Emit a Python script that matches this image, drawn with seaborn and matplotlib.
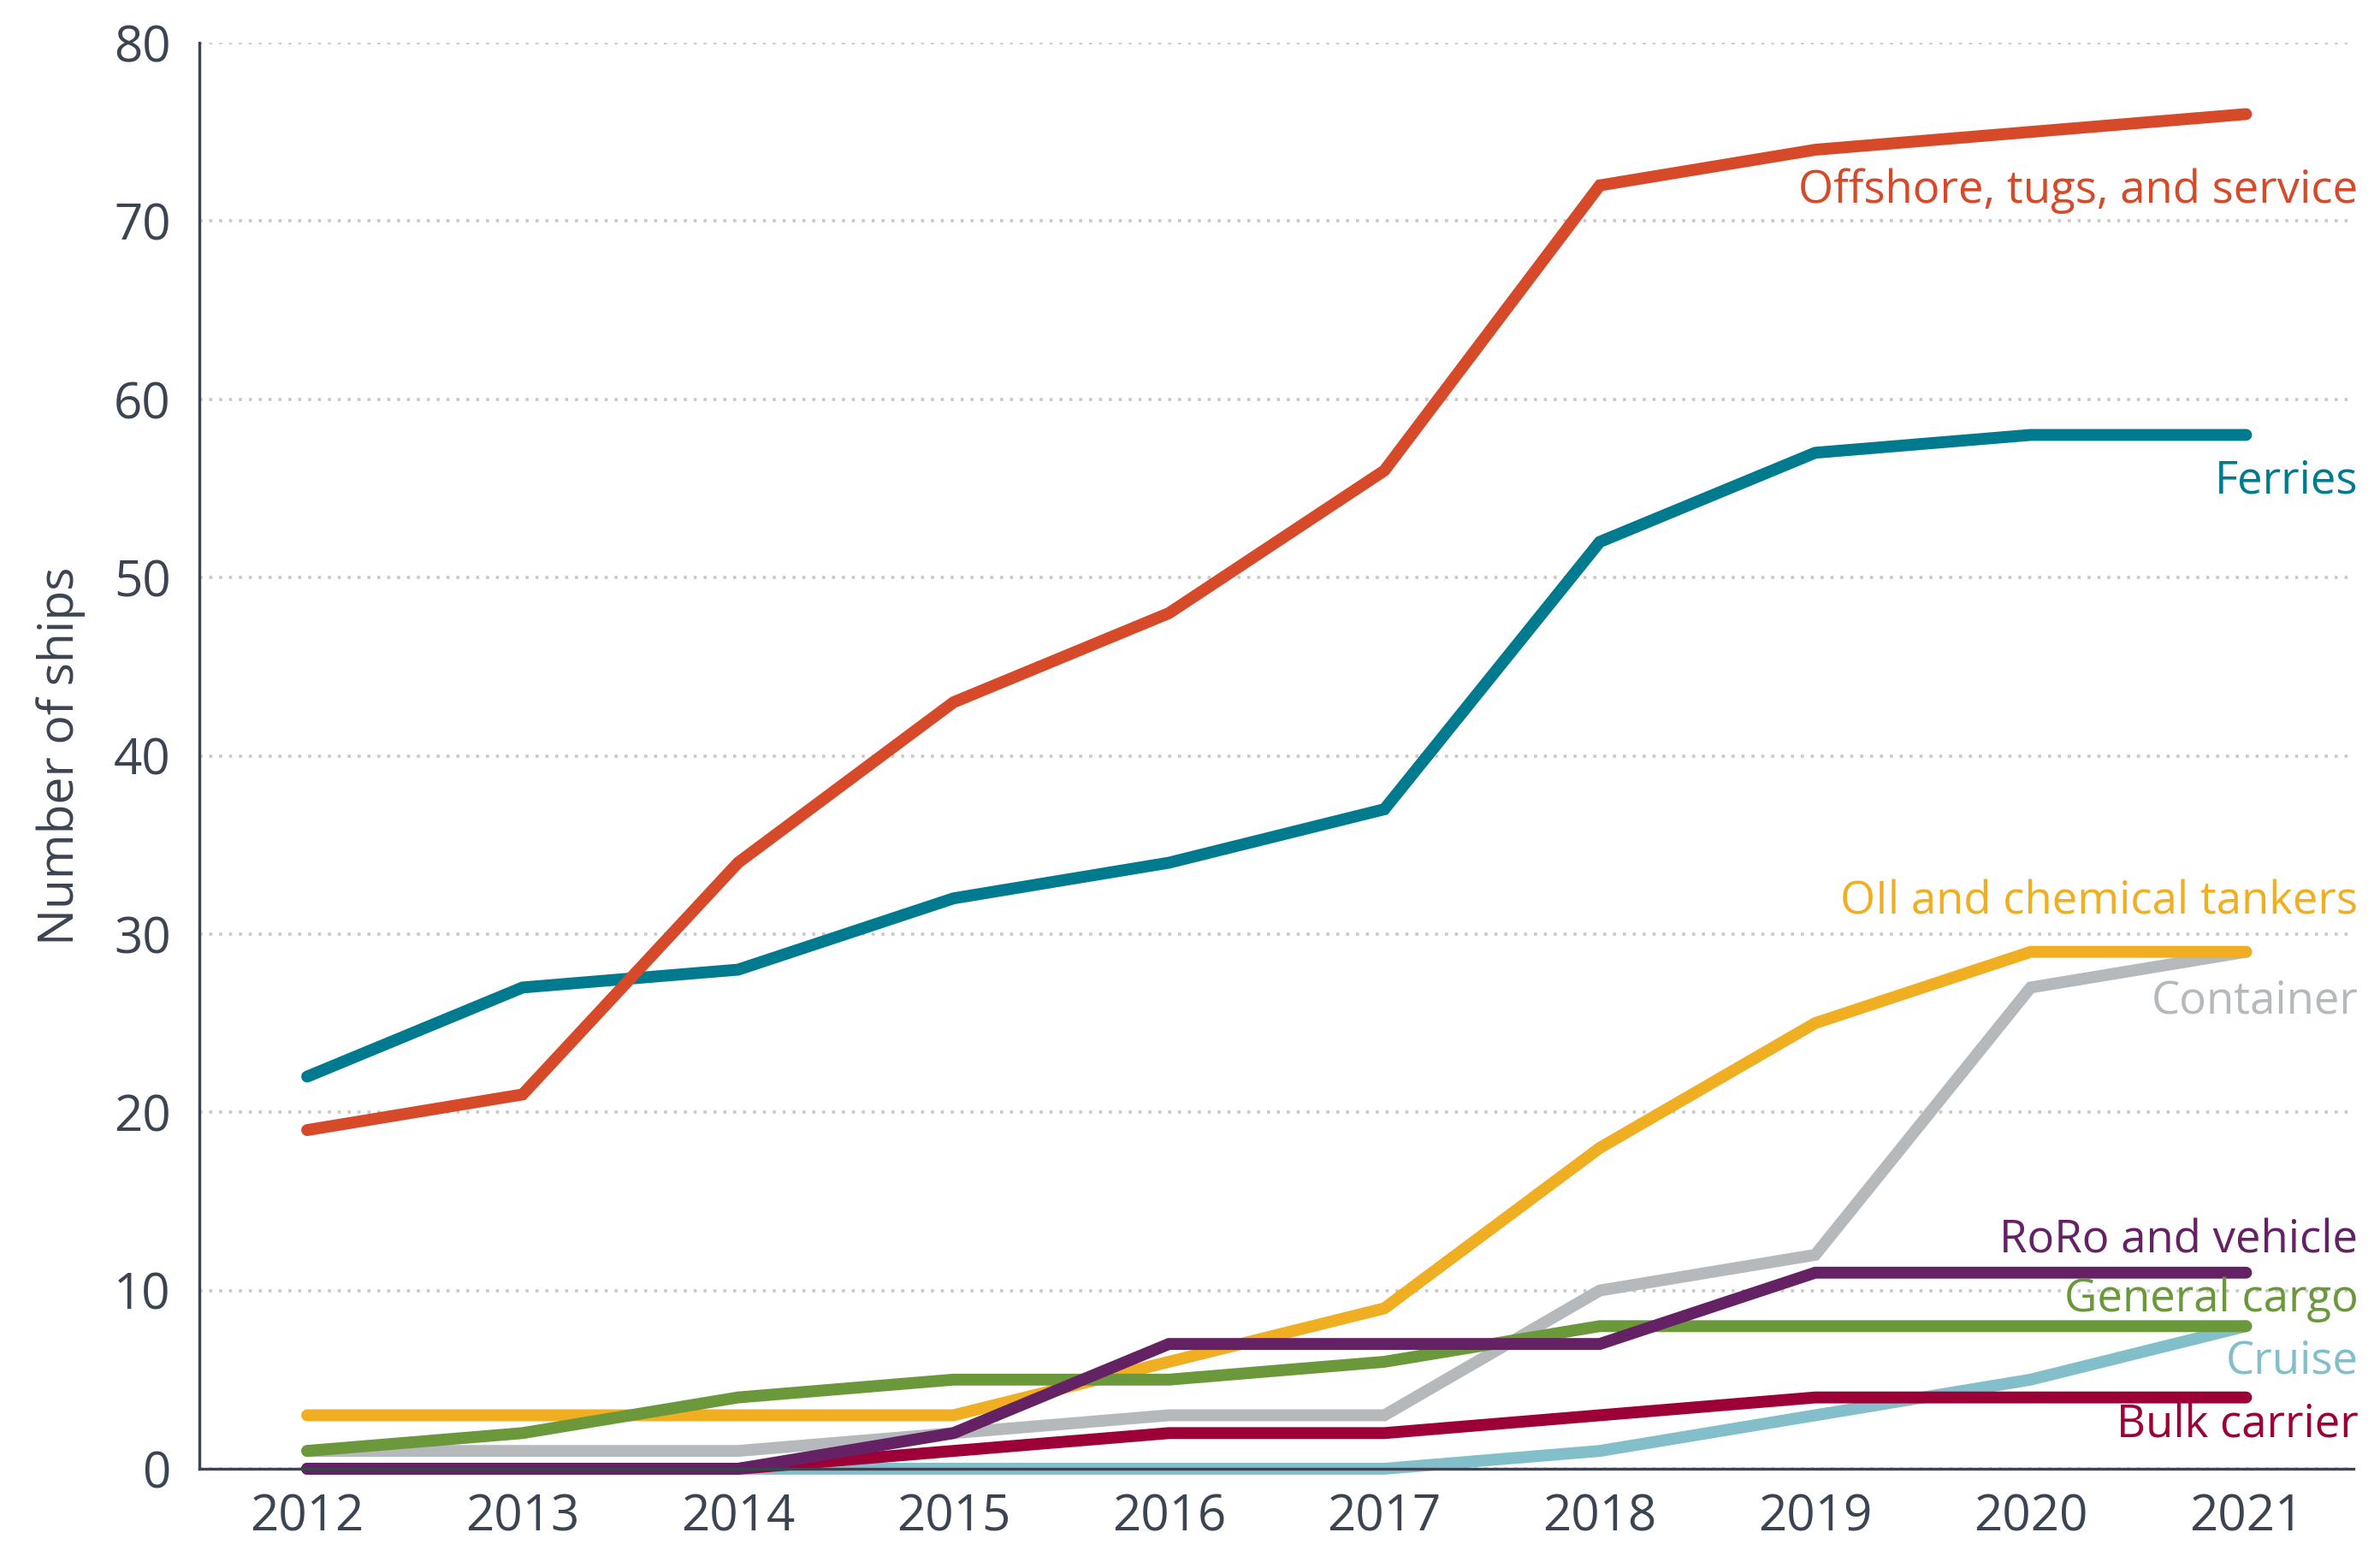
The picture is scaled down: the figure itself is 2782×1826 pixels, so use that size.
import pandas as pd
import matplotlib.pyplot as plt
import seaborn as sns

years = [2012, 2013, 2014, 2015, 2016, 2017, 2018, 2019, 2020, 2021]

container = [1, 1, 1, 2, 3, 3, 10, 12, 27, 29]
cruise = [0, 0, 0, 0, 0, 0, 1, 3, 5, 8]
bulk_carrier = [0, 0, 0, 1, 2, 2, 3, 4, 4, 4]
oil_chemical = [3, 3, 3, 3, 6, 9, 18, 25, 29, 29]
general_cargo = [1, 2, 4, 5, 5, 6, 8, 8, 8, 8]
roro_vehicle = [0, 0, 0, 2, 7, 7, 7, 11, 11, 11]
ferries = [22, 27, 28, 32, 34, 37, 52, 57, 58, 58]
offshore = [19, 21, 34, 43, 48, 56, 72, 74, 75, 76]

series = {
    "Container": container,
    "Cruise": cruise,
    "Bulk carrier": bulk_carrier,
    "OIl and chemical tankers": oil_chemical,
    "General cargo": general_cargo,
    "RoRo and vehicle": roro_vehicle,
    "Ferries": ferries,
    "Offshore, tugs, and service": offshore,
}

colors = {
    "Container": "#B5B9BB",
    "Cruise": "#82BFCA",
    "Bulk carrier": "#9C0037",
    "OIl and chemical tankers": "#F0AE22",
    "General cargo": "#6B983B",
    "RoRo and vehicle": "#642265",
    "Ferries": "#007A8E",
    "Offshore, tugs, and service": "#D64A2A",
}

rows = []
for name, vals in series.items():
    for yr, v in zip(years, vals):
        rows.append({"year": yr, "ships": v, "type": name})
df = pd.DataFrame(rows)

sns.set_style("white")
plt.rcParams["font.family"] = ["Open Sans", "DejaVu Sans"]
text_color = "#3B4450"

fig = plt.figure(figsize=(13.91, 9.13), dpi=200)
ax = fig.add_axes([0.0838, 0.0597, 0.9052, 0.9129])

sns.lineplot(data=df, x="year", y="ships", hue="type", hue_order=list(series),
             palette=colors, linewidth=5, legend=False, ax=ax)
for line in ax.lines:
    line.set_solid_capstyle("round")
    line.set_solid_joinstyle("miter")
    line.set_clip_on(False)

ax.set_xlim(2011.5, 2021.5)
ax.set_ylim(0, 80)
ax.set_yticks(range(0, 81, 10))
ax.set_xticks(years)
ax.tick_params(axis="both", length=0, labelsize=21, colors=text_color)
ax.tick_params(axis="y", pad=12)
ax.tick_params(axis="x", pad=10)
ax.yaxis.grid(True, linestyle=(0, (1, 2.2)), color="#C8C8C8", linewidth=1.3)
ax.set_axisbelow(True)

for side in ["top", "right"]:
    ax.spines[side].set_visible(False)
for side in ["left", "bottom"]:
    ax.spines[side].set_color("#3B4450")
    ax.spines[side].set_linewidth(1.2)

ax.set_xlabel("")
ax.set_ylabel("Number of ships", fontsize=20.5, color=text_color, labelpad=12)

# series labels at the right edge
label_y = {
    "Offshore, tugs, and service": 71.7,
    "Ferries": 55.4,
    "OIl and chemical tankers": 31.8,
    "Container": 26.2,
    "RoRo and vehicle": 12.8,
    "General cargo": 9.5,
    "Cruise": 6.0,
    "Bulk carrier": 2.4,
}
for name, y in label_y.items():
    ax.text(2021.52, y, name, ha="right", va="center", fontsize=19,
            color=colors[name])

fig.savefig("out.png", dpi=200)
